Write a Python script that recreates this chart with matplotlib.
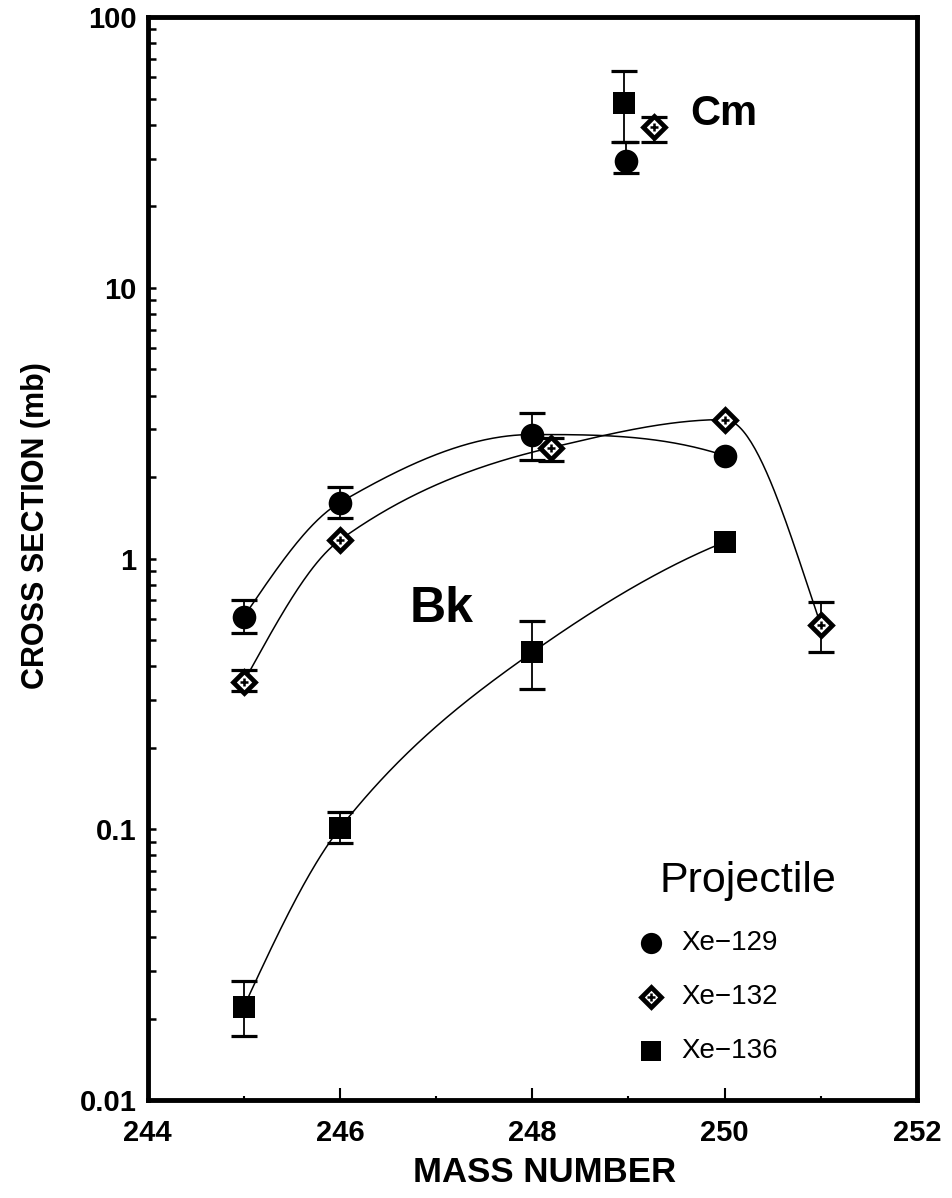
import numpy as np
import matplotlib
matplotlib.use("Agg")
import matplotlib.pyplot as plt
from matplotlib.ticker import FixedLocator, NullFormatter, LogLocator

plt.rcParams['font.family'] = ['Liberation Sans', 'DejaVu Sans']

# ---- Bk isotopes: mass number, cross section (mb), error limits ----
mass_129 = [245, 246, 248, 250]
sigma_129 = [0.61, 1.61, 2.87, 2.40]
lo_129 = [0.53, 1.41, 2.32, None]
hi_129 = [0.70, 1.83, 3.46, None]

mass_132 = [245, 246, 248.2, 250, 251]
sigma_132 = [0.351, 1.17, 2.57, 3.26, 0.57]
lo_132 = [0.323, None, 2.30, None, 0.45]
hi_132 = [0.386, None, 2.78, None, 0.69]

mass_136 = [245, 246, 248, 250]
sigma_136 = [0.0221, 0.101, 0.45, 1.15]
lo_136 = [0.0172, 0.089, 0.33, None]
hi_136 = [0.0274, 0.116, 0.59, None]

# ---- Cm-249 points (plotted side by side) ----
cm_mass = [248.98, 249.27, 248.95]
cm_sigma = [29.3, 39.4, 48.3]
cm_lo = [26.6, 34.4, 34.4]
cm_hi = [34.4, 42.9, 63.0]

series_labels = ["Xe\u2212129", "Xe\u2212132", "Xe\u2212136"]
x_ticks = [244, 246, 248, 250, 252]
y_ticks = [0.01, 0.1, 1, 10, 100]
y_ticklabels = ["0.01", "0.1", "1", "10", "100"]


def pchip(x, y, n=300):
    """Shape-preserving (Fritsch-Carlson) cubic through (x, y) on a dense grid."""
    x = np.asarray(x, float)
    y = np.asarray(y, float)
    h = np.diff(x)
    delta = np.diff(y) / h
    k = len(x)
    d = np.zeros(k)
    for i in range(1, k - 1):
        if delta[i - 1] * delta[i] > 0:
            w1 = 2 * h[i] + h[i - 1]
            w2 = h[i] + 2 * h[i - 1]
            d[i] = (w1 + w2) / (w1 / delta[i - 1] + w2 / delta[i])
    # end slopes
    def end_slope(h0, h1, d0, d1):
        s = ((2 * h0 + h1) * d0 - h0 * d1) / (h0 + h1)
        if np.sign(s) != np.sign(d0):
            s = 0.0
        elif np.sign(d0) != np.sign(d1) and abs(s) > abs(3 * d0):
            s = 3 * d0
        return s
    d[0] = end_slope(h[0], h[1], delta[0], delta[1])
    d[-1] = end_slope(h[-1], h[-2], delta[-1], delta[-2])
    xs = np.linspace(x[0], x[-1], n)
    ys = np.empty_like(xs)
    for j, xv in enumerate(xs):
        i = min(np.searchsorted(x, xv, side='right') - 1, k - 2)
        t = (xv - x[i]) / h[i]
        h00 = 2 * t ** 3 - 3 * t ** 2 + 1
        h10 = t ** 3 - 2 * t ** 2 + t
        h01 = -2 * t ** 3 + 3 * t ** 2
        h11 = t ** 3 - t ** 2
        ys[j] = h00 * y[i] + h10 * h[i] * d[i] + h01 * y[i + 1] + h11 * h[i] * d[i + 1]
    return xs, ys


fig = plt.figure(figsize=(9.53, 11.98), dpi=100)
ax = fig.add_axes([0.155, 0.0818, 0.807, 0.904])
ax.set_yscale('log')
ax.set_xlim(244, 252)
ax.set_ylim(0.01, 100)

marker_styles = [
    dict(marker='o', markersize=17, markerfacecolor='black', markeredgecolor='black', markeredgewidth=0),
    dict(marker='D', markersize=11.5, markerfacecolor='white', markeredgecolor='black', markeredgewidth=3.4),
    dict(marker='s', markersize=15.5, markerfacecolor='black', markeredgecolor='black', markeredgewidth=0),
]

err_kw = dict(fmt='none', ecolor='black', elinewidth=1.3, capsize=9.7, capthick=2.3, zorder=3)


def draw_series(mass, sigma, lo, hi, style, curve=True):
    mass = np.asarray(mass, float)
    sigma = np.asarray(sigma, float)
    if curve:
        xs, ls = pchip(mass, np.log10(sigma))
        ax.plot(xs, 10 ** ls, color='black', lw=1.1, zorder=2)
    idx = [i for i in range(len(mass)) if lo[i] is not None]
    if idx:
        yl = np.array([sigma[i] - lo[i] for i in idx])
        yh = np.array([hi[i] - sigma[i] for i in idx])
        ax.errorbar(mass[idx], sigma[idx], yerr=[yl, yh], **err_kw)
    ax.plot(mass, sigma, linestyle='none', zorder=4, **style)
    if style['marker'] == 'D':
        ax.plot(mass, sigma, linestyle='none', marker='+', markersize=6,
                markeredgewidth=1.8, color='black', zorder=5)


draw_series(mass_129, sigma_129, lo_129, hi_129, marker_styles[0])
draw_series(mass_132, sigma_132, lo_132, hi_132, marker_styles[1])
draw_series(mass_136, sigma_136, lo_136, hi_136, marker_styles[2])

# Cm points, one per projectile
for i in range(3):
    draw_series([cm_mass[i]], [cm_sigma[i]], [cm_lo[i]], [cm_hi[i]],
                marker_styles[i], curve=False)

# Element labels
ax.text(0.705, 0.910, "Cm", transform=ax.transAxes, fontsize=30,
        fontweight='bold', ha='left', va='center')
ax.text(0.341, 0.453, "Bk", transform=ax.transAxes, fontsize=36,
        fontweight='bold', ha='left', va='center')

# Hand-made legend
ax.text(0.666, 0.192, "Projectile", transform=ax.transAxes, fontsize=31,
        ha='left', va='baseline')
leg_y = [0.145, 0.095, 0.0457]
for i in range(3):
    st = dict(marker_styles[i])
    st['markersize'] = st['markersize'] * 0.9
    ax.plot([0.655], [leg_y[i]], transform=ax.transAxes, linestyle='none',
            clip_on=False, zorder=5, **st)
    if st['marker'] == 'D':
        ax.plot([0.655], [leg_y[i]], transform=ax.transAxes, linestyle='none',
                marker='+', markersize=5.5, markeredgewidth=1.8, color='black', zorder=6)
    ax.text(0.694, leg_y[i], series_labels[i], transform=ax.transAxes,
            fontsize=20, ha='left', va='center')

# Axes styling
for side in ['left', 'right', 'top', 'bottom']:
    ax.spines[side].set_linewidth(3.5)

ax.xaxis.set_major_locator(FixedLocator(x_ticks))
ax.xaxis.set_minor_locator(FixedLocator([245, 247, 249, 251]))
ax.set_xticklabels([str(t) for t in x_ticks])
ax.yaxis.set_major_locator(FixedLocator(y_ticks))
ax.set_yticklabels(y_ticklabels)
ax.yaxis.set_minor_locator(LogLocator(base=10, subs=np.arange(2, 10), numticks=20))
ax.yaxis.set_minor_formatter(NullFormatter())

ax.tick_params(axis='x', which='major', direction='in', length=9, width=1.5,
               top=False, pad=14, labelsize=21)
ax.tick_params(axis='x', which='minor', direction='in', length=3, width=1.5, top=False)
ax.tick_params(axis='y', which='major', direction='in', length=6, width=1.8,
               right=False, pad=8, labelsize=21)
ax.tick_params(axis='y', which='minor', direction='in', length=6, width=1.8, right=False)
for lab in ax.get_xticklabels() + ax.get_yticklabels():
    lab.set_fontweight('bold')

fig.text(545 / 953, 1 - 1172 / 1198, "MASS NUMBER", fontsize=25,
         fontweight='bold', ha='center', va='center')
fig.text(36 / 953, 1 - 526 / 1198, "CROSS SECTION (mb)", fontsize=22,
         fontweight='bold', ha='center', va='center', rotation=90)

fig.savefig("out.png", dpi=100)
